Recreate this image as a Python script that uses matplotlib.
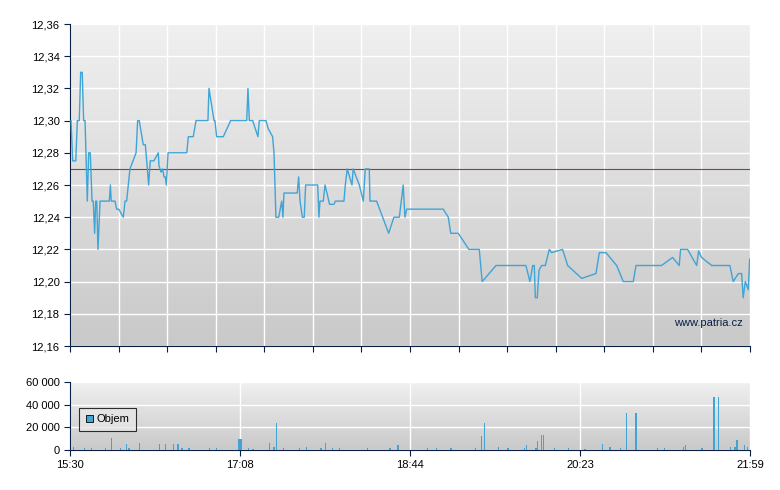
import numpy as np
import matplotlib
matplotlib.use("Agg")
import matplotlib.pyplot as plt
from matplotlib.ticker import FuncFormatter

plt.rcParams['font.family'] = ['Liberation Sans', 'DejaVu Sans']

# price trace: minutes after 15:30, price
price_min = [0.6, 1.5, 3.3, 4.2, 5.3, 6.1, 7.0, 7.8, 8.6, 9.9, 10.7, 11.6, 12.6, 13.3, 14.1, 14.7,
             15.3, 16.0, 17.2, 22.5, 23.1, 23.6, 25.7, 26.7, 27.9, 30.5, 31.5, 32.4, 34.3, 37.8, 38.7,
             39.6, 41.9, 43.1, 45.0, 45.9, 48.0, 50.5, 50.9, 52.1, 53.0, 53.8, 54.5, 55.1, 56.1, 66.8,
             67.7, 70.5, 72.1, 78.9, 79.5, 82.4, 82.9, 83.9, 87.7, 91.9, 101.1, 101.8, 102.6, 104.5,
             107.5, 108.3, 112.1, 113.4, 115.9, 116.7, 117.8, 119.4, 121.1, 121.8, 122.4, 130.0, 130.8,
             131.6, 132.9, 134.0, 134.8, 141.7, 142.4, 143.0, 144.9, 145.9, 148.5, 151.0, 151.8, 156.7,
             157.5, 158.6, 161.3, 162.0, 165.5, 167.8, 168.9, 171.2, 171.6, 175.4, 182.3, 185.3, 188.4,
             190.6, 191.6, 192.6, 213.5, 216.4, 217.8, 222.1, 228.2, 234.1, 235.8, 243.7, 260.8, 263.1,
             264.7, 265.6, 266.2, 267.3, 268.3, 269.8, 271.9, 274.2, 275.5, 281.8, 284.7, 292.7, 300.9,
             302.8, 306.6, 312.7, 316.5, 322.2, 323.8, 338.4, 344.7, 348.5, 349.3, 353.3, 358.5, 359.6,
             361.3, 367.1, 377.5, 379.4, 382.3, 384.2, 385.1, 386.3, 388.0, 388.8]
price_val = [12.30, 12.275, 12.275, 12.30, 12.30, 12.33, 12.33, 12.30, 12.30, 12.25, 12.28, 12.28, 12.25,
             12.25, 12.23, 12.25, 12.25, 12.22, 12.25, 12.25, 12.26, 12.25, 12.25, 12.245, 12.245, 12.24,
             12.25, 12.25, 12.27, 12.28, 12.30, 12.30, 12.285, 12.285, 12.26, 12.275, 12.275, 12.28,
             12.272, 12.268, 12.27, 12.265, 12.265, 12.26, 12.28, 12.28, 12.29, 12.29, 12.30, 12.30,
             12.32, 12.30, 12.30, 12.29, 12.29, 12.30, 12.30, 12.32, 12.30, 12.30, 12.29, 12.30, 12.30,
             12.295, 12.29, 12.28, 12.24, 12.24, 12.25, 12.24, 12.255, 12.255, 12.265, 12.25, 12.24,
             12.24, 12.26, 12.26, 12.24, 12.25, 12.25, 12.26, 12.248, 12.248, 12.25, 12.25, 12.26, 12.27,
             12.26, 12.27, 12.26, 12.25, 12.27, 12.27, 12.25, 12.25, 12.23, 12.24, 12.24, 12.26, 12.24,
             12.245, 12.245, 12.24, 12.23, 12.23, 12.22, 12.22, 12.20, 12.21, 12.21, 12.20, 12.21, 12.21,
             12.19, 12.19, 12.207, 12.21, 12.21, 12.22, 12.218, 12.22, 12.21, 12.202, 12.205, 12.218,
             12.218, 12.21, 12.20, 12.20, 12.21, 12.21, 12.215, 12.21, 12.22, 12.22, 12.21, 12.219,
             12.215, 12.21, 12.21, 12.20, 12.205, 12.205, 12.19, 12.20, 12.195, 12.214]
prev_close = 12.27

vol_min = [2.1, 8.3, 12.3, 20.3, 23.8, 28.9, 32.4, 33.7, 39.6, 51.1, 54.6, 59.1, 61.8, 64.0, 68.0, 79.7,
           83.8, 96.6, 97.9, 102.0, 104.6, 114.0, 116.7, 118.3, 122.0, 131.4, 135.4, 143.5, 146.1, 150.1,
           154.2, 170.2, 183.1, 187.6, 204.5, 209.8, 217.9, 231.8, 235.5, 237.1, 245.2, 250.5, 259.9,
           261.2, 266.6, 267.6, 269.8, 270.8, 277.3, 285.3, 294.7, 304.6, 308.9, 314.8, 318.2, 323.8,
           336.2, 340.2, 350.9, 352.2, 361.6, 368.5, 370.9, 377.7, 380.4, 381.6, 385.7, 387.6, 389.7]
vol_val = [3000, 1500, 2000, 1500, 11000, 1500, 5000, 2000, 6000, 5000, 5000, 5000, 5000, 2000, 1500,
           1500, 1500, 10000, 10000, 1500, 1000, 6000, 3000, 24000, 2000, 2000, 2500, 2000, 6000, 2000,
           1500, 2000, 1500, 4000, 2000, 1500, 1500, 2000, 12000, 24000, 3000, 2000, 1500, 4500, 2000,
           8000, 13000, 13000, 1500, 1500, 1000, 5500, 3000, 2000, 33000, 33000, 1500, 1500, 3000, 4000,
           2000, 47000, 47000, 3000, 2500, 9000, 4000, 3000, 2500]

time_labels = ["15:30", "17:08", "18:44", "20:23", "21:59"]
total = 389
navy = "#0a1f44"
blue = "#3fa4d6"

fig = plt.figure(figsize=(7.8, 4.9), dpi=100)
ax = fig.add_axes([70 / 780, 144 / 490, 680 / 780, 322 / 490])
axv = fig.add_axes([70 / 780, 40 / 490, 680 / 780, 68 / 490])

grad = np.linspace(0, 1, 256).reshape(-1, 1)
cmap = matplotlib.colors.LinearSegmentedColormap.from_list("bg", ["#f0f0f0", "#c9c9c9"])
for a, (lo, hi) in ((ax, (12.16, 12.36)), (axv, (0, 60000))):
    a.imshow(grad, aspect="auto", cmap=cmap, origin="upper",
             extent=(0, total, lo, hi), zorder=0)
    a.set_xlim(0, total)
    a.set_ylim(lo, hi)
    for s in ("top", "right"):
        a.spines[s].set_visible(False)
    for s in ("left", "bottom"):
        a.spines[s].set_color(navy)
    a.tick_params(colors="black", labelsize=8, direction="out", length=4, color=navy)

# price chart
ax.set_yticks(np.arange(12.16, 12.361, 0.02))
ax.yaxis.set_major_formatter(FuncFormatter(lambda v, p: f"{v:.2f}".replace(".", ",")))
ax.set_xticks(np.linspace(0, total, 15))
ax.set_xticklabels([])
ax.grid(True, color="white", lw=1)
for gl in ax.get_xgridlines() + ax.get_ygridlines():
    gl.set_zorder(1)
ax.axhline(prev_close, color="#8a4040", lw=0.8, zorder=2)
ax.plot(price_min, price_val, color=blue, lw=1, zorder=3)
ax.text(0.99, 0.07, "www.patria.cz", transform=ax.transAxes, ha="right", va="center",
        fontsize=8, color=navy)

# volume chart
axv.bar(vol_min, vol_val, width=0.8, color=blue, zorder=3, label="Objem")
axv.set_yticks([0, 20000, 40000, 60000])
axv.yaxis.set_major_formatter(FuncFormatter(lambda v, p: f"{int(v):,}".replace(",", " ")))
axv.set_xticks(np.linspace(0, total, 5))
axv.set_xticklabels(time_labels)
axv.grid(True, color="white", lw=1)
for gl in axv.get_xgridlines() + axv.get_ygridlines():
    gl.set_zorder(1)
leg = axv.legend(loc="center left", bbox_to_anchor=(0.005, 0.45), fontsize=8, frameon=True,
                 fancybox=False, handlelength=0.7, handleheight=0.7, handletextpad=0.3,
                 borderpad=0.6, facecolor="#e6e6e6", edgecolor="black")
leg.get_frame().set_linewidth(0.8)
for h in leg.legend_handles:
    h.set_edgecolor("black")
    h.set_linewidth(0.6)

fig.savefig("out.png", dpi=100)
